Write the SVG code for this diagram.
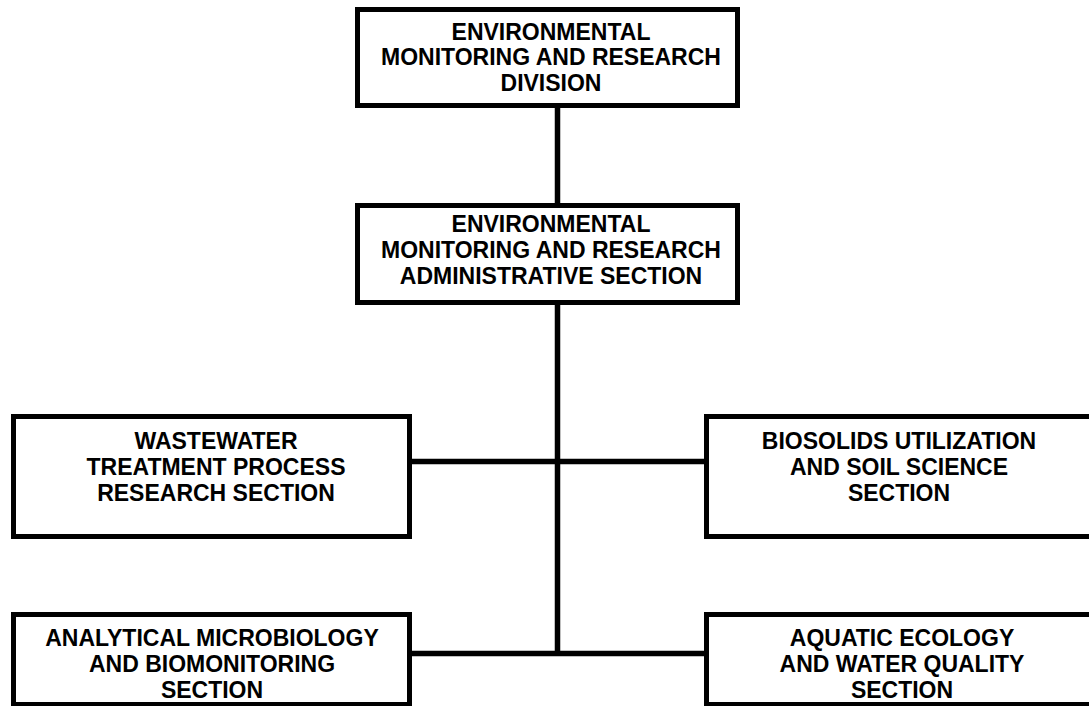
<svg xmlns="http://www.w3.org/2000/svg" width="1089" height="706" viewBox="0 0 1089 706">
<style>
.box{fill:#fff;stroke:#000;stroke-width:5}
.ln{stroke:#000;stroke-width:5.5;fill:none}
text{font-family:"Liberation Sans",Arial,sans-serif;font-weight:bold;font-size:23px;text-anchor:middle;fill:#000}
</style>
<rect width="1089" height="706" fill="#fff"/>
<g id="connectors">
<line class="ln" x1="557.5" y1="105" x2="557.5" y2="206"/>
<line class="ln" x1="557.5" y1="302" x2="557.5" y2="656"/>
<line class="ln" x1="410" y1="461.5" x2="706" y2="461.5"/>
<line class="ln" x1="410" y1="653.5" x2="706" y2="653.5"/>
</g>
<g id="n1">
<rect class="box" x="357.5" y="9.5" width="380" height="96"/>
<text x="551" y="40">ENVIRONMENTAL</text>
<text x="551" y="65">MONITORING AND RESEARCH</text>
<text x="551" y="91">DIVISION</text>
</g>
<g id="n2">
<rect class="box" x="357.5" y="205.5" width="380" height="97"/>
<text x="551" y="232">ENVIRONMENTAL</text>
<text x="551" y="258">MONITORING AND RESEARCH</text>
<text x="551" y="284">ADMINISTRATIVE SECTION</text>
</g>
<g id="n3">
<rect class="box" x="13.5" y="416.5" width="396" height="120"/>
<text x="216" y="449">WASTEWATER</text>
<text x="216" y="475">TREATMENT PROCESS</text>
<text x="216" y="501">RESEARCH SECTION</text>
</g>
<g id="n4">
<rect class="box" x="706.5" y="416.5" width="396" height="120"/>
<text x="899" y="449">BIOSOLIDS UTILIZATION</text>
<text x="899" y="475">AND SOIL SCIENCE</text>
<text x="899" y="501">SECTION</text>
</g>
<g id="n5">
<rect class="box" x="13.5" y="614.5" width="396" height="90"/>
<text x="212" y="646">ANALYTICAL MICROBIOLOGY</text>
<text x="212" y="672">AND BIOMONITORING</text>
<text x="212" y="698">SECTION</text>
</g>
<g id="n6">
<rect class="box" x="706.5" y="614.5" width="396" height="90"/>
<text x="902" y="646">AQUATIC ECOLOGY</text>
<text x="902" y="672">AND WATER QUALITY</text>
<text x="902" y="698">SECTION</text>
</g>
</svg>
